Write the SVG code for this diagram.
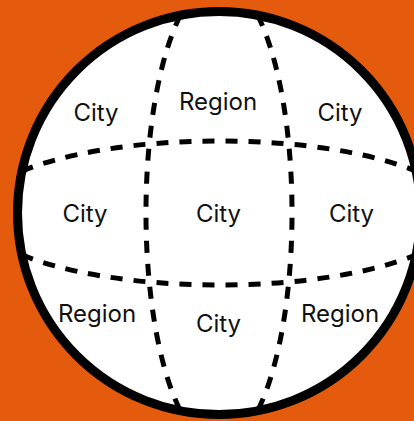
<svg xmlns="http://www.w3.org/2000/svg" width="414" height="421" viewBox="0 0 414 421">
<style>
.bg{fill:#E55B0D}
.d{fill:none;stroke:#000;stroke-width:5;stroke-dasharray:12 11}
.t{font-family:Inter,Roboto,"Liberation Sans",sans-serif;font-size:24px;fill:#111;text-anchor:middle}
</style>
<rect class="bg" x="0" y="0" width="414" height="421"/>
<g id="globe">
<circle cx="219" cy="213" r="201.5" fill="#fff"/>
</g>
<g id="connectors">
<path class="d" d="M21.9,171.2 A242,72 0 0,1 416.1,171.2"/>
<path class="d" d="M21.9,254.8 A242,72 0 0,0 416.1,254.8"/>
<path class="d" d="M180.4,15.2 A73,233 0 0,0 180.4,410.8"/>
<path class="d" d="M257.6,15.2 A73,233 0 0,1 257.6,410.8"/>
</g>
<circle cx="219" cy="213" r="201.5" fill="none" stroke="#000" stroke-width="9"/>
<g id="n1"><text class="t" x="96" y="121">City</text></g>
<g id="n2"><text class="t" x="218" y="110">Region</text></g>
<g id="n3"><text class="t" x="340" y="121">City</text></g>
<g id="n4"><text class="t" x="85" y="222">City</text></g>
<g id="n5"><text class="t" x="218.5" y="222">City</text></g>
<g id="n6"><text class="t" x="351.5" y="222">City</text></g>
<g id="n7"><text class="t" x="97" y="322">Region</text></g>
<g id="n8"><text class="t" x="218.5" y="332">City</text></g>
<g id="n9"><text class="t" x="340" y="322">Region</text></g>
</svg>
